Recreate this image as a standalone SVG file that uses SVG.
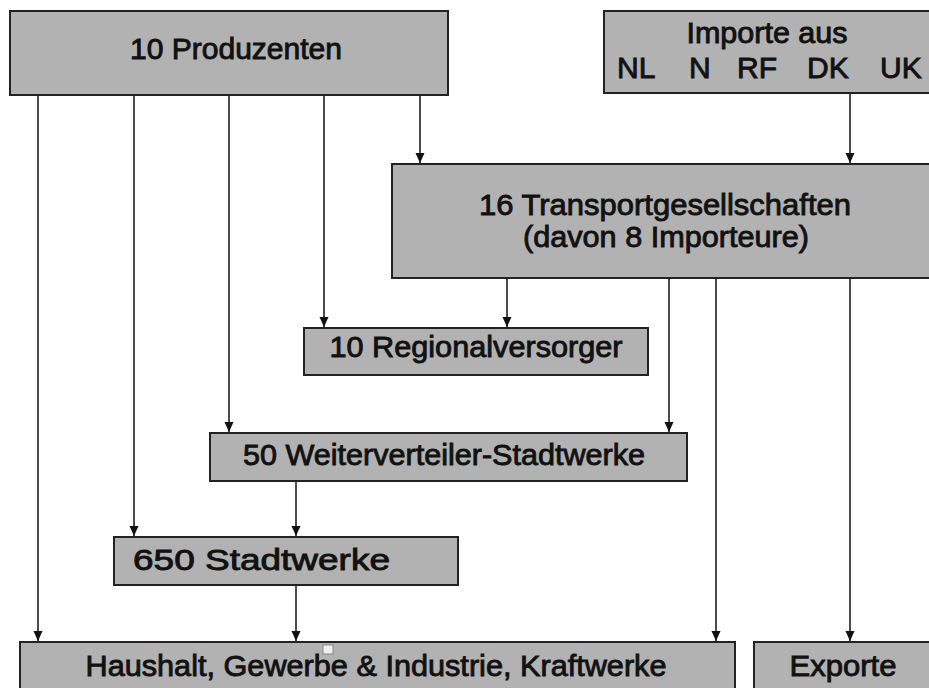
<svg xmlns="http://www.w3.org/2000/svg" width="929" height="688" viewBox="0 0 929 688">
<style>
.box{fill:#b2b2b2;stroke:#222;stroke-width:2}
.t{font-family:"Liberation Sans",Arial,sans-serif;font-size:30px;fill:#111;stroke:#111;stroke-width:0.9}
.c{fill:none;stroke:#111;stroke-width:1.5}
</style>
<defs>
<marker id="ah" markerWidth="10" markerHeight="10" refX="10" refY="5" orient="auto" markerUnits="userSpaceOnUse" viewBox="0 0 10 10">
<path d="M0,0.5 L10,5 L0,9.5 Z" fill="#111"/>
</marker>
</defs>
<rect width="929" height="688" fill="#fff"/>
<g id="connectors">
<line class="c" x1="38" y1="95" x2="38" y2="641" marker-end="url(#ah)"/>
<line class="c" x1="134" y1="95" x2="134" y2="536" marker-end="url(#ah)"/>
<line class="c" x1="229" y1="95" x2="229" y2="432" marker-end="url(#ah)"/>
<line class="c" x1="324" y1="95" x2="324" y2="327" marker-end="url(#ah)"/>
<line class="c" x1="420" y1="95" x2="420" y2="163" marker-end="url(#ah)"/>
<line class="c" x1="850" y1="93" x2="850" y2="163" marker-end="url(#ah)"/>
<line class="c" x1="507" y1="278" x2="507" y2="327" marker-end="url(#ah)"/>
<line class="c" x1="669" y1="278" x2="669" y2="432" marker-end="url(#ah)"/>
<line class="c" x1="716" y1="278" x2="716" y2="641" marker-end="url(#ah)"/>
<line class="c" x1="850" y1="278" x2="850" y2="641" marker-end="url(#ah)"/>
<line class="c" x1="296" y1="482" x2="296" y2="536" marker-end="url(#ah)"/>
<line class="c" x1="296" y1="586" x2="296" y2="641" marker-end="url(#ah)"/>
</g>
<g id="produzenten">
<rect class="box" x="10" y="11" width="438" height="84"/>
<text class="t" x="236" y="59" text-anchor="middle" textLength="212" lengthAdjust="spacingAndGlyphs">10 Produzenten</text>
</g>
<g id="importe">
<rect class="box" x="604" y="11" width="330" height="82"/>
<text class="t" x="767" y="43" text-anchor="middle" textLength="161" lengthAdjust="spacingAndGlyphs">Importe aus</text>
<text class="t" x="617" y="78">NL</text>
<text class="t" x="689" y="78">N</text>
<text class="t" x="737" y="78">RF</text>
<text class="t" x="807" y="78">DK</text>
<text class="t" x="880" y="78">UK</text>
</g>
<g id="transport">
<rect class="box" x="392" y="164" width="542" height="114"/>
<text class="t" x="665" y="215" text-anchor="middle" textLength="372" lengthAdjust="spacingAndGlyphs">16 Transportgesellschaften</text>
<text class="t" x="666" y="247" text-anchor="middle" textLength="286" lengthAdjust="spacingAndGlyphs">(davon 8 Importeure)</text>
</g>
<g id="regional">
<rect class="box" x="304" y="328" width="344" height="47"/>
<text class="t" x="476" y="357" text-anchor="middle" textLength="293" lengthAdjust="spacingAndGlyphs">10 Regionalversorger</text>
</g>
<g id="weiterverteiler">
<rect class="box" x="210" y="433" width="477" height="48"/>
<text class="t" x="444" y="465" text-anchor="middle" textLength="402" lengthAdjust="spacingAndGlyphs">50 Weiterverteiler-Stadtwerke</text>
</g>
<g id="stadtwerke">
<rect class="box" x="114" y="537" width="344" height="48"/>
<text class="t" x="133" y="570" textLength="257" lengthAdjust="spacingAndGlyphs">650 Stadtwerke</text>
</g>
<g id="haushalt">
<rect class="box" x="20" y="642" width="715" height="52"/>
<text class="t" x="376" y="676" text-anchor="middle" textLength="581" lengthAdjust="spacingAndGlyphs">Haushalt, Gewerbe &amp; Industrie, Kraftwerke</text>
</g>
<g id="exporte">
<rect class="box" x="754" y="642" width="180" height="52"/>
<text class="t" x="843" y="676" text-anchor="middle" textLength="107" lengthAdjust="spacingAndGlyphs">Exporte</text>
</g>
<rect x="323" y="645" width="10" height="9" fill="#eee" stroke="#888" stroke-width="1"/>
</svg>
